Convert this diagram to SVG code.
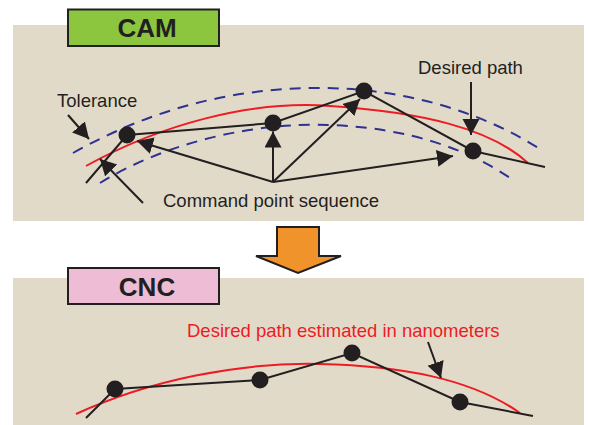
<svg xmlns="http://www.w3.org/2000/svg" width="589" height="425" viewBox="0 0 589 425">
<defs>
<marker id="ah" markerUnits="userSpaceOnUse" markerWidth="17" markerHeight="18" refX="16" refY="8.5" orient="auto" viewBox="0 0 17 18">
<path d="M0,0 L16,8.5 L0,17 Z" fill="#231f20"/>
</marker>
</defs>
<style>
.panel{fill:#e2dac8}
.lbl{font-family:"Liberation Sans",Arial,sans-serif;font-size:18.5px;fill:#231f20}
.title{font-family:"Liberation Sans",Arial,sans-serif;font-size:26px;font-weight:bold;fill:#231f20;text-anchor:middle}
.box{stroke:#231f20;stroke-width:2}
.red{fill:none;stroke:#ed1c24;stroke-width:2}
.blue{fill:none;stroke:#2e3192;stroke-width:2;stroke-dasharray:11 8}
.poly{fill:none;stroke:#231f20;stroke-width:2}
.dot{fill:#231f20}
.arr{fill:none;stroke:#231f20;stroke-width:2;marker-end:url(#ah)}
</style>
<rect width="589" height="425" fill="#ffffff"/>
<g id="cam-panel">
<rect class="panel" x="13" y="25" width="571" height="196"/>
<path class="blue" d="M73,153 C150,110 230,88 320,88 C400,88 480,110 543,151"/>
<path class="blue" d="M100,183 C170,140 260,122 330,125 C410,128 470,150 513,180"/>
<path class="red" d="M86,166 C160,125 250,100 330,106 C420,112 490,128 528,163"/>
<polyline class="poly" points="86,183 127,135 273,123 364,91 473,151 545,167"/>
</g>
<g id="cam-label">
<rect class="box" x="68" y="9.5" width="151" height="36.5" fill="#8cc63e"/>
<text class="title" x="147" y="37">CAM</text>
</g>
<g id="cam-points">
<circle class="dot" cx="127" cy="135" r="8.5"/>
<circle class="dot" cx="273" cy="123" r="8.5"/>
<circle class="dot" cx="364" cy="91" r="8.5"/>
<circle class="dot" cx="473" cy="151" r="8.5"/>
</g>
<g id="cam-texts">
<text class="lbl" x="57" y="107">Tolerance</text>
<text class="lbl" x="418" y="74">Desired path</text>
<text class="lbl" x="163" y="206.5">Command point sequence</text>
</g>
<g id="transition-arrow">
<path d="M277,227 L319,227 L319,256 L341,256 L298,273 L256,256 L277,256 Z" fill="#f0932b" stroke="#231f20" stroke-width="2" stroke-linejoin="miter"/>
</g>
<g id="cnc-panel">
<rect class="panel" x="13" y="278" width="571" height="147"/>
<path class="red" d="M76,414 C150,380 240,362 320,364 C400,366 470,378 520,413"/>
<polyline class="poly" points="86,418 115,389 260,380 352,353 460,402 533,416"/>
</g>
<g id="cnc-label">
<rect class="box" x="68" y="268" width="151" height="36" fill="#eebcd5"/>
<text class="title" x="147" y="296">CNC</text>
</g>
<g id="cnc-points">
<circle class="dot" cx="115" cy="389" r="8.5"/>
<circle class="dot" cx="260" cy="380" r="8.5"/>
<circle class="dot" cx="352" cy="353" r="8.5"/>
<circle class="dot" cx="460" cy="402" r="8.5"/>
</g>
<g id="cnc-texts">
<text class="lbl" x="187" y="336.5" style="fill:#ed1c24">Desired path estimated in nanometers</text>
</g>
<g id="connectors">
<line class="arr" x1="68" y1="115" x2="89" y2="139"/>
<line class="arr" x1="143" y1="203" x2="100" y2="159"/>
<line class="arr" x1="273" y1="182" x2="137" y2="141"/>
<line class="arr" x1="273" y1="182" x2="273" y2="131.5"/>
<line class="arr" x1="273" y1="182" x2="360" y2="99"/>
<line class="arr" x1="273" y1="182" x2="453" y2="156"/>
<line class="arr" x1="471" y1="82" x2="471" y2="135"/>
<line class="arr" x1="428" y1="342" x2="441" y2="378"/>
</g>
</svg>
